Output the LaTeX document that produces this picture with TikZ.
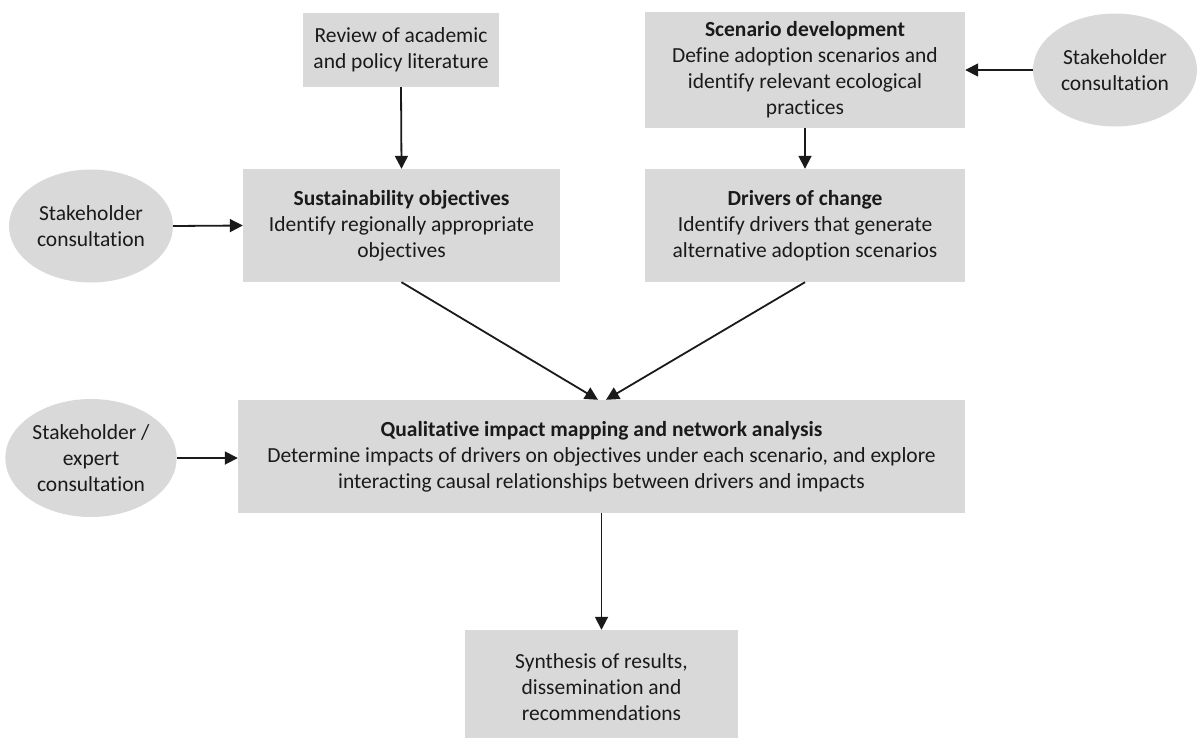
\documentclass[tikz,border=0pt]{standalone}
\usepackage{fontspec}
\setmainfont[Ligatures={NoCommon}]{Carlito}
\usetikzlibrary{arrows.meta,shapes.geometric}
\definecolor{boxgray}{HTML}{D9D9D9}
\definecolor{ink}{HTML}{1A1A1A}
\begin{document}
\begin{tikzpicture}[x=1pt,y=-1pt,
  every node/.style={font=\fontsize{21.5}{26}\selectfont, text=ink, align=center, inner sep=2pt},
  stepbox/.style={rectangle, fill=boxgray, draw=none},
  consult/.style={ellipse, fill=boxgray, draw=none, minimum width=164pt, minimum height=113pt},
  flow/.style={draw=ink, line width=1.8pt, -{Triangle[length=13pt,width=13pt]}}
]
\useasboundingbox (0,0) rectangle (1198,737);

% process boxes
\node[stepbox, minimum width=196pt, minimum height=74pt] (review) at (401,50)
  {Review of academic\\and policy literature};
\node[stepbox, minimum width=320pt, minimum height=116pt] (scen) at (805,70)
  {\textbf{Scenario development}\\Define adoption scenarios and\\identify relevant ecological\\practices};
\node[stepbox, minimum width=317pt, minimum height=113pt] (sust) at (401.5,225.5)
  {\textbf{Sustainability objectives}\\Identify regionally appropriate\\objectives};
\node[stepbox, minimum width=320pt, minimum height=113pt] (drv) at (805,225.5)
  {\textbf{Drivers of change}\\Identify drivers that generate\\alternative adoption scenarios};
\node[stepbox, minimum width=727pt, minimum height=113pt] (qual) at (601.5,456.5)
  {\textbf{Qualitative impact mapping and network analysis}\\Determine impacts of drivers on objectives under each scenario, and explore\\interacting causal relationships between drivers and impacts};
\node[stepbox, minimum width=273pt, minimum height=114pt] (synth) at (601.5,687)
  {Synthesis of results,\\dissemination and\\recommendations};

% consultation ellipses
\node[consult] (stR) at (1115,70) {Stakeholder\\consultation};
\node[consult] (stL) at (91,226) {Stakeholder\\consultation};
\node[consult, minimum height=118pt] (stE) at (91,458) {Stakeholder /\\expert\\consultation};

% connectors
\coordinate (qualL) at ([xshift=-3.5pt]qual.north);
\coordinate (qualR) at ([xshift=4.5pt]qual.north);
\draw[flow] (review.south) -- (sust.north);
\draw[flow] (scen.south) -- (drv.north);
\draw[flow] (stR.west) -- (scen.east);
\draw[flow] (stL.east) -- (sust.west);
\draw[flow] (sust.south) -- (qualL);
\draw[flow] (drv.south) -- (qualR);
\draw[flow] (stE.east) -- (qual.west |- stE.east);
\draw[flow] (qual.south) -- (synth.north);
\end{tikzpicture}
\end{document}
